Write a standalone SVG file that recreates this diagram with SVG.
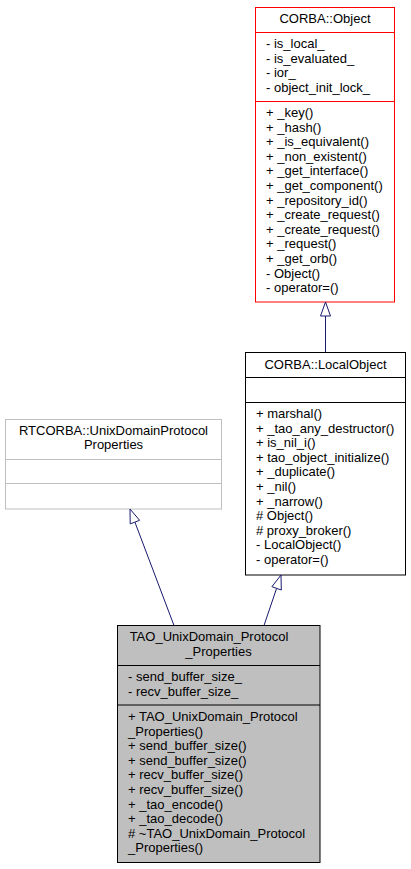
<svg xmlns="http://www.w3.org/2000/svg" width="411" height="869" viewBox="0 0 411 869">
<style>
text{font-family:"Liberation Sans",Arial,sans-serif;font-size:13px;fill:#000}
.c{text-anchor:middle}
.box{fill:#fff;stroke:#000;stroke-width:1}
.red{stroke:#ff0000}
.grey{stroke:#bfbfbf}
.cur{fill:#bfbfbf}
.sep{stroke:#000;stroke-width:1}
.sepred{stroke:#ff0000;stroke-width:1}
.sepgrey{stroke:#bfbfbf;stroke-width:1}
.edge{stroke:#191970;stroke-width:1;fill:none}
.head{stroke:#191970;stroke-width:1;fill:#fff}
</style>
<rect width="411" height="869" fill="#fff"/>
<g id="corba_object">
<rect class="box red" x="255.5" y="7.5" width="139" height="294.5"/>
<line class="sepred" x1="255.5" y1="32.5" x2="394.5" y2="32.5"/>
<line class="sepred" x1="255.5" y1="101.5" x2="394.5" y2="101.5"/>
<text class="c" x="325" y="23">CORBA::Object</text>
<text x="266" y="48">- is_local_</text>
<text x="266" y="62.6">- is_evaluated_</text>
<text x="266" y="77.2">- ior_</text>
<text x="266" y="91.8">- object_init_lock_</text>
<text x="266" y="117">+ _key()</text>
<text x="266" y="131.6">+ _hash()</text>
<text x="266" y="146.2">+ _is_equivalent()</text>
<text x="266" y="160.8">+ _non_existent()</text>
<text x="266" y="175.4">+ _get_interface()</text>
<text x="266" y="190">+ _get_component()</text>
<text x="266" y="204.6">+ _repository_id()</text>
<text x="266" y="219.2">+ _create_request()</text>
<text x="266" y="233.8">+ _create_request()</text>
<text x="266" y="248.4">+ _request()</text>
<text x="266" y="263">+ _get_orb()</text>
<text x="266" y="277.6">- Object()</text>
<text x="266" y="292.2">- operator=()</text>
</g>
<g id="corba_localobject">
<rect class="box" x="245.5" y="352.5" width="160" height="222.5"/>
<line class="sep" x1="245.5" y1="377.5" x2="405.5" y2="377.5"/>
<line class="sep" x1="245.5" y1="402.5" x2="405.5" y2="402.5"/>
<text class="c" x="325.5" y="369">CORBA::LocalObject</text>
<text x="256" y="418">+ marshal()</text>
<text x="256" y="432.6">+ _tao_any_destructor()</text>
<text x="256" y="447.2">+ is_nil_i()</text>
<text x="256" y="461.8">+ tao_object_initialize()</text>
<text x="256" y="476.4">+ _duplicate()</text>
<text x="256" y="491">+ _nil()</text>
<text x="256" y="505.6">+ _narrow()</text>
<text x="256" y="520.2"># Object()</text>
<text x="256" y="534.8"># proxy_broker()</text>
<text x="256" y="549.4">- LocalObject()</text>
<text x="256" y="564">- operator=()</text>
</g>
<g id="rtcorba_unixdomainprotocolproperties">
<rect class="box grey" x="5.5" y="419.5" width="216" height="89.5"/>
<line class="sepgrey" x1="5.5" y1="459.5" x2="221.5" y2="459.5"/>
<line class="sepgrey" x1="5.5" y1="483.5" x2="221.5" y2="483.5"/>
<text class="c" x="113.5" y="434.5">RTCORBA::UnixDomainProtocol</text>
<text class="c" x="113.5" y="449">Properties</text>
</g>
<g id="tao_unixdomain_protocol_properties">
<rect class="box cur" x="117.5" y="625.5" width="202.5" height="237"/>
<line class="sep" x1="117.5" y1="665.5" x2="320" y2="665.5"/>
<line class="sep" x1="117.5" y1="705" x2="320" y2="705"/>
<text class="c" x="209" y="641">TAO_UnixDomain_Protocol</text>
<text class="c" x="218.5" y="655.5">_Properties</text>
<text x="128" y="681">- send_buffer_size_</text>
<text x="128" y="695.6">- recv_buffer_size_</text>
<text x="128" y="721">+ TAO_UnixDomain_Protocol</text>
<text x="128" y="735.6">_Properties()</text>
<text x="128" y="750.2">+ send_buffer_size()</text>
<text x="128" y="764.8">+ send_buffer_size()</text>
<text x="128" y="779.4">+ recv_buffer_size()</text>
<text x="128" y="794">+ recv_buffer_size()</text>
<text x="128" y="808.6">+ _tao_encode()</text>
<text x="128" y="823.2">+ _tao_decode()</text>
<text x="128" y="837.8"># ~TAO_UnixDomain_Protocol</text>
<text x="128" y="852.4">_Properties()</text>
</g>
<g id="connectors">
<path class="edge" d="M325.5,352 L325.5,316"/>
<polygon class="head" points="325.5,302 320.5,316 330.5,316"/>
<path class="edge" d="M174,625.5 L134.9,522.1"/>
<polygon class="head" points="130,509 130.2,523.9 139.6,520.3"/>
<path class="edge" d="M264,625.5 L276.6,588.3"/>
<polygon class="head" points="281,575 271.9,586.7 281.3,590"/>
</g>
</svg>
